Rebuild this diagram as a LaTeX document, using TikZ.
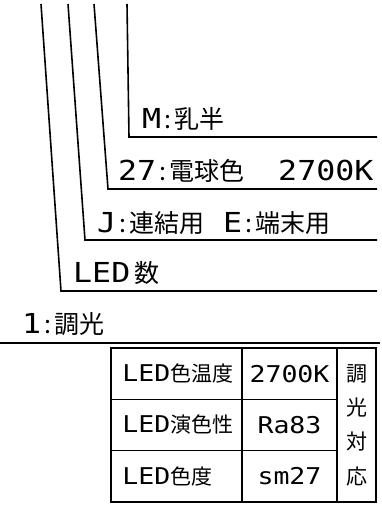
\documentclass[tikz,border=0pt]{standalone}
\usepackage{fontspec}
\setmainfont{Noto Sans CJK JP}
\newfontfamily\latf[Scale=1.1,FakeStretch=1.15]{DejaVu Sans Mono}
\newcommand\lt[1]{{\latf #1}}
\newcommand\cl{\hspace{3pt}:\hspace{3pt}}
\usetikzlibrary{positioning}
\tikzstyle{lbl}=[anchor=base west,inner sep=0pt,font=\fontsize{25}{25}\selectfont]
\tikzstyle{leader}=[line width=1.6pt,line join=miter]
\tikzstyle{cell}=[draw,line width=1.6pt,inner sep=0pt,minimum height=51.3pt,font=\fontsize{21}{21}\selectfont]
\tikzstyle{celltxt}=[anchor=west,inner sep=0pt,font=\fontsize{21}{21}\selectfont]
\tikzset{every picture/.style={
    x=1pt,y=-1pt
  }
}

\begin{document}
\begin{tikzpicture}
        \useasboundingbox (0,0) rectangle (382,506);
        % leader lines
        \coordinate (ntop) at (41,4);   \coordinate (nbend) at (61,291);  \coordinate (nend) at (377,291);
        \coordinate (jtop) at (68,4);   \coordinate (jbend) at (85,240);  \coordinate (jend) at (377,240);
        \coordinate (ctop) at (94,4);   \coordinate (cbend) at (108,189); \coordinate (cend) at (377,189);
        \coordinate (mtop) at (127,4);  \coordinate (mbend) at (129,137); \coordinate (mend) at (377,137);
        \coordinate (sepl) at (0,343);  \coordinate (sepr) at (380,343);
        \draw[leader] (ntop) -- (nbend) -- (nend);
        \draw[leader] (jtop) -- (jbend) -- (jend);
        \draw[leader] (ctop) -- (cbend) -- (cend);
        \draw[leader] (mtop) -- (mbend) -- (mend);
        \draw[leader] (sepl) -- (sepr);
        % labels
        \node[lbl] at (142,128) (cover) {\lt{M}\cl 乳半};
        \node[lbl] at (118,180) (color) {\lt{27}\cl 電球色\hspace{34pt}\lt{2700K}};
        \node[lbl] at (97,232) (type) {\lt{J}\cl 連結用\lt{ E}\cl 端末用};
        \node[lbl] at (73,282) (num) {\lt{LED}\hspace{4pt}数};
        \node[lbl] at (22,333) (dim) {\lt{1}\cl 調光};
        % table
        \node[cell,minimum width=131pt] at (176.5,373.7) (k1) {};
        \node[cell,minimum width=131pt] at (176.5,425) (k2) {};
        \node[cell,minimum width=131pt] at (176.5,476.3) (k3) {};
        \node[cell,minimum width=95pt] at (289.5,373.7) (v1) {\lt{2700K}};
        \node[cell,minimum width=95pt] at (289.5,425) (v2) {\lt{Ra83}};
        \node[cell,minimum width=95pt] at (289.5,476.3) (v3) {\lt{sm27}};
        \node[cell,minimum width=39pt,minimum height=154pt,align=center,
              font=\fontsize{21}{34.3}\selectfont] at (356.5,425) (note) {調\\光\\対\\応};
        \node[celltxt] at ([xshift=12pt]k1.west) (k1t) {\lt{LED}色温度};
        \node[celltxt] at ([xshift=12pt]k2.west) (k2t) {\lt{LED}演色性};
        \node[celltxt] at ([xshift=12pt]k3.west) (k3t) {\lt{LED}色度};
      \end{tikzpicture}
\end{document}
